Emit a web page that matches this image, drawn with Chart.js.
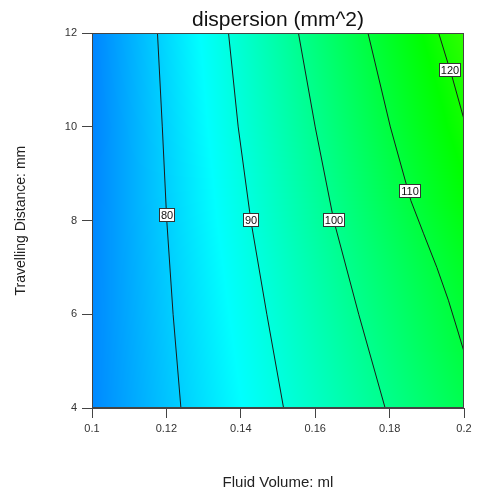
<!DOCTYPE html>
<html>
<head>
<meta charset="utf-8">
<script src="https://cdn.jsdelivr.net/npm/chart.js@4.4.1/dist/chart.umd.min.js"></script>
<style>
  html, body { margin: 0; padding: 0; background: #fff; }
</style>
</head>
<body>
<canvas id="myChart" width="478" height="492"></canvas>
<script>
// axis ticks
const xTicks = [0.1, 0.12, 0.14, 0.16, 0.18, 0.2];
const yTicks = [4, 6, 8, 10, 12];

// contour levels and the lines: [fluid volume, travelling distance]
const levels = [80, 90, 100, 110, 120];
const line80 = [[0.1176, 12], [0.1189, 10], [0.1201, 8], [0.1218, 6], [0.1239, 4]];
const line90 = [[0.1367, 12], [0.1393, 10], [0.1427, 8], [0.1470, 6], [0.1515, 4]];
const line100 = [[0.1555, 12], [0.1600, 10], [0.1650, 8], [0.1717, 6], [0.1788, 4]];
const line110 = [[0.1742, 12], [0.1802, 10], [0.1857, 8.43], [0.1891, 7.73], [0.1927, 7.0],
                 [0.1958, 6.3], [0.1985, 5.6], [0.2, 5.2]];
const line120 = [[0.1932, 12], [0.1968, 11.07], [0.2, 10.16]];
const lines = [line80, line90, line100, line110, line120];

// where the level labels sit
const labelX = [0.1201, 0.1428, 0.1651, 0.1854, 0.1962];
const labelY = [8.12, 8.02, 8.02, 8.63, 11.22];

const FONT = "'Liberation Sans', Arial, sans-serif";

function xAt(ln, yv) {
    for (let i = 0; i < ln.length - 1; i++) {
        const [x0, y0] = ln[i], [x1, y1] = ln[i + 1];
        if (yv <= y0 && yv >= y1) {
            return x0 + (x1 - x0) * (yv - y0) / (y1 - y0);
        }
    }
    return null;
}

function valueAt(pts, xv) {
    let i = 0;
    while (i < pts.length - 2 && xv > pts[i + 1][0]) i++;
    const [x0, v0] = pts[i], [x1, v1] = pts[i + 1];
    return v0 + (v1 - v0) * (xv - x0) / (x1 - x0);
}

function colour(v) {
    let h = 180 - (v - 86) * 1.9;
    h = Math.max(100, Math.min(240, h));
    const f = n => {
        const k = (n + h / 60) % 6;
        return 255 * (1 - Math.max(0, Math.min(k, 4 - k, 1)));
    };
    return [f(5), f(3), f(1)];
}

const heatmap = {
    id: 'heatmap',
    beforeDatasetsDraw(chart) {
        const { ctx, chartArea: a, scales: { x, y } } = chart;
        const l = Math.round(a.left), t = Math.round(a.top);
        const w = Math.round(a.right) - l, h = Math.round(a.bottom) - t;
        const img = ctx.createImageData(w, h);
        for (let j = 0; j < h; j++) {
            const yv = y.getValueForPixel(t + j + 0.5);
            const pts = [];
            lines.forEach((ln, k) => {
                const xv = xAt(ln, yv);
                if (xv !== null) pts.push([xv, levels[k]]);
            });
            for (let i = 0; i < w; i++) {
                const xv = x.getValueForPixel(l + i + 0.5);
                const c = colour(valueAt(pts, xv));
                const p = (j * w + i) * 4;
                img.data[p] = c[0];
                img.data[p + 1] = c[1];
                img.data[p + 2] = c[2];
                img.data[p + 3] = 255;
            }
        }
        ctx.putImageData(img, l, t);
    }
};

const contourLabels = {
    id: 'contourLabels',
    afterDatasetsDraw(chart) {
        const { ctx, scales: { x, y } } = chart;
        ctx.save();
        ctx.font = '11px ' + FONT;
        ctx.textAlign = 'center';
        ctx.textBaseline = 'middle';
        levels.forEach((lv, i) => {
            const px = Math.round(x.getPixelForValue(labelX[i]));
            const py = Math.round(y.getPixelForValue(labelY[i]));
            const txt = String(lv);
            const bw = Math.round(ctx.measureText(txt).width) + 4;
            const bh = 14;
            ctx.fillStyle = '#fff';
            ctx.fillRect(px - bw / 2, py - bh / 2, bw, bh);
            ctx.strokeStyle = '#333';
            ctx.lineWidth = 1;
            ctx.strokeRect(px - bw / 2 + 0.5, py - bh / 2 + 0.5, bw - 1, bh - 1);
            ctx.fillStyle = '#111';
            ctx.fillText(txt, px, py + 0.5);
        });
        ctx.restore();
    }
};

const frame = {
    id: 'frame',
    afterDraw(chart) {
        const { ctx, chartArea: a } = chart;
        ctx.save();
        ctx.strokeStyle = '#444';
        ctx.lineWidth = 1;
        ctx.strokeRect(Math.round(a.left) + 0.5, Math.round(a.top) + 0.5,
            Math.round(a.right - a.left) - 1, Math.round(a.bottom - a.top) - 1);
        ctx.restore();
    }
};

const datasets = lines.map((ln, k) => ({
    label: String(levels[k]),
    data: ln.map(p => ({ x: p[0], y: p[1] })),
    showLine: true,
    borderColor: '#1a1a1a',
    borderWidth: 1,
    pointRadius: 0,
    fill: false
}));

const ctx = document.getElementById('myChart').getContext('2d');
const myChart = new Chart(ctx, {
    type: 'scatter',
    data: { datasets },
    plugins: [heatmap, contourLabels, frame],
    options: {
        responsive: false,
        animation: false,
        devicePixelRatio: 1,
        layout: { padding: { left: 0, right: 14, top: 0, bottom: 0 } },
        scales: {
            x: {
                type: 'linear',
                min: 0.1,
                max: 0.2,
                afterBuildTicks: s => { s.ticks = xTicks.map(v => ({ value: v })); },
                afterFit: s => { s.height = 84; },
                grid: { drawOnChartArea: false, tickLength: 10, color: '#444' },
                border: { color: '#444' },
                ticks: {
                    padding: 4,
                    color: '#333',
                    font: { family: FONT, size: 11 },
                    callback: v => String(v)
                },
                title: {
                    display: true,
                    text: 'Fluid Volume: ml',
                    color: '#222',
                    font: { family: FONT, size: 15 },
                    padding: { top: 0, bottom: 0 }
                }
            },
            y: {
                type: 'linear',
                min: 4,
                max: 12,
                afterBuildTicks: s => { s.ticks = yTicks.map(v => ({ value: v })); },
                afterFit: s => { s.width = 92; },
                grid: { drawOnChartArea: false, tickLength: 10, color: '#444' },
                border: { color: '#444' },
                ticks: {
                    padding: 5,
                    color: '#333',
                    font: { family: FONT, size: 11 },
                    callback: v => String(v)
                },
                title: {
                    display: true,
                    text: 'Travelling Distance: mm',
                    color: '#222',
                    font: { family: FONT, size: 14 },
                    padding: { top: 13, bottom: 0 }
                }
            }
        },
        plugins: {
            legend: { display: false },
            tooltip: { enabled: false },
            title: {
                display: true,
                fullSize: false,
                text: 'dispersion (mm^2)',
                color: '#111',
                font: { family: FONT, size: 21, weight: 'normal' },
                padding: { top: 8, bottom: 0 }
            }
        }
    }
});
</script>
</body>
</html>
